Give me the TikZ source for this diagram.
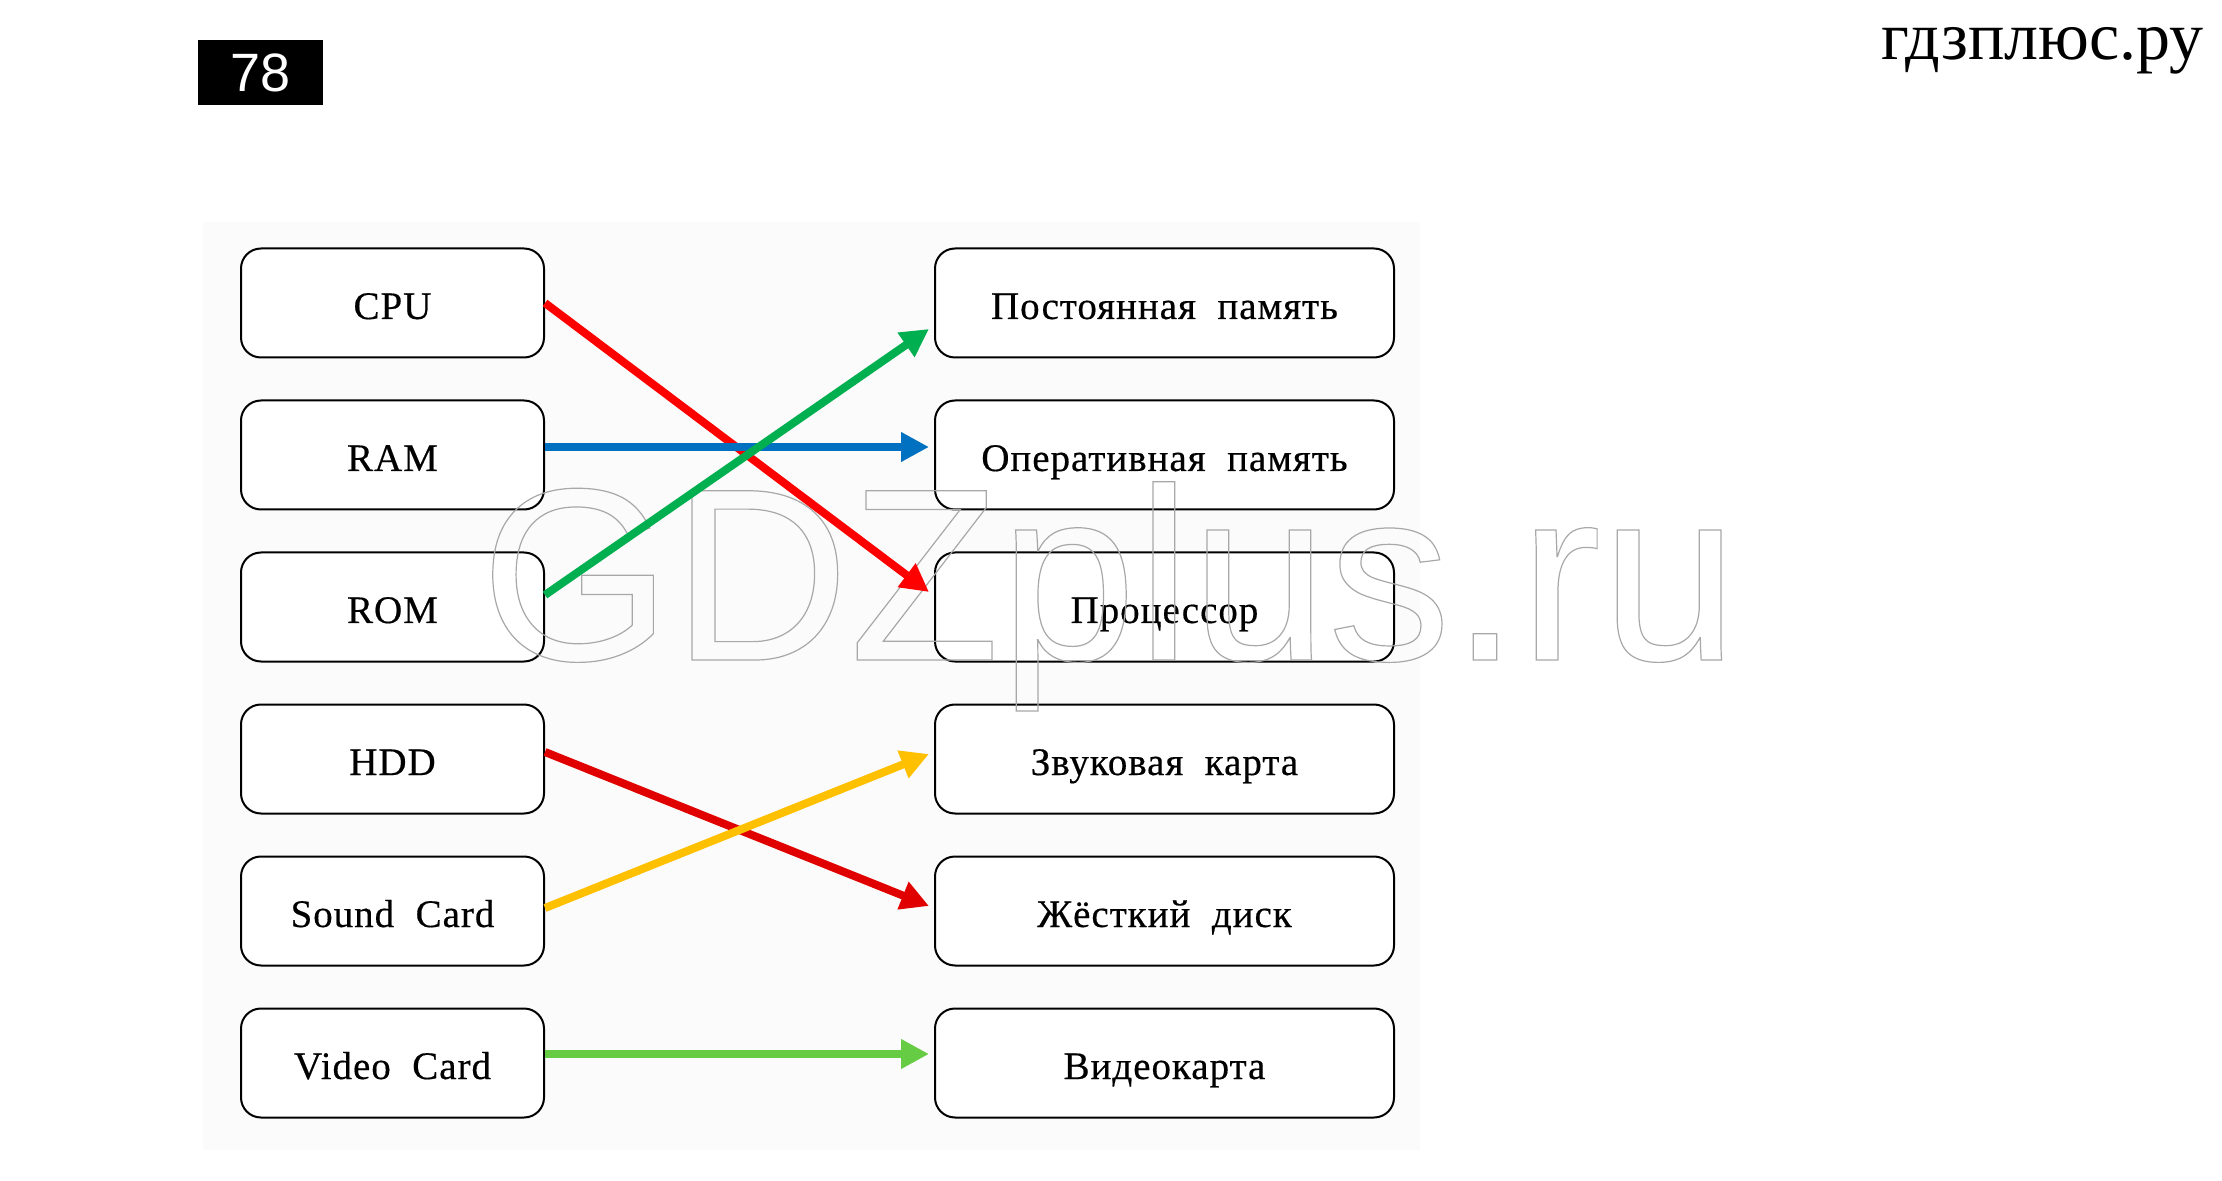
\documentclass[tikz,border=0pt]{standalone}
\usepackage{fontspec}
\setmainfont{Liberation Serif}
\newfontfamily\sansf{Liberation Sans}
\newfontfamily\lblf[LetterSpace=2.5,FakeBold=0.4]{Liberation Serif}
\usetikzlibrary{arrows.meta}
\definecolor{cpured}{RGB}{255,0,0}
\definecolor{hddred}{RGB}{224,0,0}
\definecolor{ramblue}{RGB}{0,112,192}
\definecolor{romgreen}{RGB}{0,176,80}
\definecolor{sndyellow}{RGB}{255,192,0}
\definecolor{vidgreen}{RGB}{102,204,68}
\definecolor{wmgray}{RGB}{168,168,168}
\definecolor{bgpaper}{RGB}{251,251,251}
\newcommand{\wsp}{\hspace{0.55em}}
\begin{document}
\begin{tikzpicture}[x=0.5pt,y=-0.5pt,
  box/.style={draw=black,line width=1pt,rounded corners=10pt,fill=white,
    minimum height=54.5pt,inner sep=0pt,text height=16pt,text depth=0pt,
    font=\lblf\fontsize{19.5}{22}\selectfont},
  lbox/.style={box,minimum width=151.5pt},
  rbox/.style={box,minimum width=229.5pt},
  conn/.style={line width=4pt,-{Triangle[length=14pt,width=14pt]}},
]
\useasboundingbox (0,0) rectangle (2222,1181);
% paper background
\fill[bgpaper] (203,222) rectangle (1420,1150);
% page number
\node[fill=black,minimum width=62.5pt,minimum height=32.5pt,inner sep=0pt,
  text=white,font=\sansf\fontsize{27}{30}\selectfont] (num) at (260.5,72.5) {78};
% site name
\node[anchor=base west,inner sep=0pt,font=\rmfamily\fontsize{34}{38}\selectfont] (site) at (1881,60) {гдзплюс.ру};
% left boxes
\node[lbox] (cpu) at (392.5,303) {CPU};
\node[lbox] (ram) at (392.5,455) {RAM};
\node[lbox] (rom) at (392.5,607) {ROM};
\node[lbox] (hdd) at (392.5,759) {HDD};
\node[lbox] (snd) at (392.5,911) {Sound\wsp Card};
\node[lbox] (vid) at (392.5,1063) {Video\wsp Card};
% right boxes
\node[rbox] (post) at (1164.5,303) {Постоянная\wsp память};
\node[rbox] (oper) at (1164.5,455) {Оперативная\wsp память};
\node[rbox] (proc) at (1164.5,607) {Процессор};
\node[rbox] (zvuk) at (1164.5,759) {Звуковая\wsp карта};
\node[rbox] (disk) at (1164.5,911) {Жёсткий\wsp диск};
\node[rbox] (vcard) at (1164.5,1063) {Видеокарта};
% watermark
\node[anchor=base west,inner sep=0pt,font=\sansf\fontsize{123}{133}\selectfont] (wm) at (480,660)
  {\color{wmgray}\special{pdf:literal direct 1 Tr 0.6 w}GDZplus.ru\special{pdf:literal direct 0 Tr}};
% connectors
\draw[conn,cpured] (cpu.east) -- ([shift={(-5,-15)}]proc.west);
\draw[conn,ramblue] ([shift={(0,-8)}]ram.east) -- ([shift={(-5,-8)}]oper.west);
\draw[conn,romgreen] ([shift={(0,-12)}]rom.east) -- ([shift={(-5,26)}]post.west);
\draw[conn,hddred] ([shift={(0,-7)}]hdd.east) -- ([shift={(-5,-5)}]disk.west);
\draw[conn,sndyellow] ([shift={(0,-3)}]snd.east) -- ([shift={(-5,-5)}]zvuk.west);
\draw[conn,vidgreen] ([shift={(0,-9)}]vid.east) -- ([shift={(-5,-9)}]vcard.west);
\end{tikzpicture}
\end{document}
